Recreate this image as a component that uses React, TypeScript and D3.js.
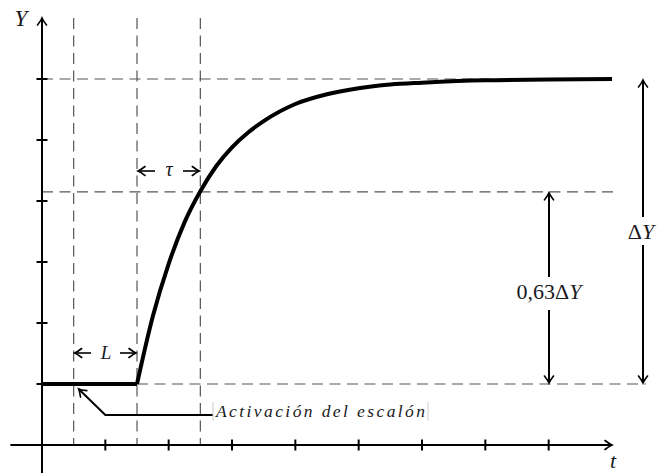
import React from "react";
import * as d3 from "d3";

// ---- data ----
const xTicks = [1, 2, 3, 4, 5, 6, 7, 8];
const yTicks = [1, 2, 3, 4, 5, 6];
const guideTimes = [0.5, 1.5, 2.5]; // dead-time start, step, step + tau
const levelInitial = 1;
const levelFinal = 6;
const level63 = 4.15;
const flatT = [0, 1.5];
const flatY = [1, 1];
const riseT = [1.5, 1.75, 2, 2.25, 2.5, 2.75, 3, 3.25, 3.5, 4, 4.5, 5, 5.5, 6, 7, 8, 9];
const riseY = [1, 2.11, 2.97, 3.65, 4.16, 4.57, 4.88, 5.12, 5.31, 5.59, 5.75, 5.85, 5.91, 5.94, 5.98, 5.99, 6.0];

const W = 660;
const H = 474;

export default function App() {
  const x = d3.scaleLinear().domain([0, 9]).range([42, 612]);
  const y = d3.scaleLinear().domain([0, 7]).range([445, 18]);

  const flatLine = d3
    .line<number>()
    .x((_, i) => x(flatT[i]))
    .y((d) => y(d))
    .curve(d3.curveLinear);
  const riseLine = d3
    .line<number>()
    .x((_, i) => x(riseT[i]))
    .y((d) => y(d))
    .curve(d3.curveMonotoneX);

  const dash = "11,6.5";
  const dashColor = "#555";
  const dashW = 1.2;
  const font = "'Liberation Serif', 'DejaVu Serif', serif";
  const txt = "#1a1a22";

  const x0 = x(0);
  const yA = y(0);
  const tStep = guideTimes[1];
  const tTau = guideTimes[2];
  const tL = guideTimes[0];

  const arrowX63 = 549;
  const arrowXDY = 643;

  return (
    <svg
      width={W}
      height={H}
      style={{ position: "absolute", left: 0, top: 0, background: "#fff" }}
    >
      <defs>
        <marker
          id="ah"
          viewBox="-10 -6 12 12"
          refX={0}
          refY={0}
          markerWidth={12}
          markerHeight={12}
          markerUnits="userSpaceOnUse"
          orient="auto-start-reverse"
        >
          <path
            d="M -7 -4.5 Q -2.5 -1 0 0 Q -2.5 1 -7 4.5"
            fill="none"
            stroke="#000"
            strokeWidth={1.6}
            strokeLinecap="round"
          />
        </marker>
      </defs>

      {/* vertical dashed guides */}
      {guideTimes.map((t) => (
        <line
          key={"g" + t}
          x1={x(t)}
          x2={x(t)}
          y1={y(7)}
          y2={yA}
          stroke={dashColor}
          strokeWidth={dashW}
          strokeDasharray={dash}
        />
      ))}

      {/* horizontal dashed guides */}
      <line x1={x0} x2={x(9)} y1={y(levelFinal)} y2={y(levelFinal)} stroke={dashColor} strokeWidth={dashW} strokeDasharray={dash} />
      <line x1={x0} x2={613} y1={y(level63)} y2={y(level63)} stroke={dashColor} strokeWidth={dashW} strokeDasharray={dash} />
      <line x1={x(tStep)} x2={646} y1={y(levelInitial)} y2={y(levelInitial)} stroke={dashColor} strokeWidth={dashW} strokeDasharray={dash} />

      {/* axes */}
      <line x1={x(-0.5)} x2={x(9)} y1={yA} y2={yA} stroke="#000" strokeWidth={2} markerEnd="url(#ah)" />
      <line x1={x0} x2={x0} y1={473} y2={y(7)} stroke="#000" strokeWidth={2} markerEnd="url(#ah)" />
      {xTicks.map((t) => (
        <line key={"xt" + t} x1={x(t)} x2={x(t)} y1={yA - 5.5} y2={yA + 5.5} stroke="#000" strokeWidth={2} />
      ))}
      {yTicks.map((v) => (
        <line key={"yt" + v} x1={x0 - 5.5} x2={x0 + 5.5} y1={y(v)} y2={y(v)} stroke="#000" strokeWidth={2} />
      ))}

      {/* response curve */}
      <path d={flatLine(flatY) || ""} fill="none" stroke="#000" strokeWidth={4} />
      <path d={riseLine(riseY) || ""} fill="none" stroke="#000" strokeWidth={4} strokeLinejoin="round" />

      {/* L arrows */}
      <line x1={91} x2={x(tL) + 1} y1={353} y2={353} stroke="#000" strokeWidth={1.6} markerEnd="url(#ah)" />
      <line x1={120} x2={x(tStep) - 1} y1={353} y2={353} stroke="#000" strokeWidth={1.6} markerEnd="url(#ah)" />
      <text x={106} y={359} fontFamily={font} fontStyle="italic" fontSize={19} fill={txt} textAnchor="middle">
        L
      </text>

      {/* tau arrows */}
      <line x1={155} x2={x(tStep) + 1} y1={171} y2={171} stroke="#000" strokeWidth={1.6} markerEnd="url(#ah)" />
      <line x1={183} x2={x(tTau) - 1} y1={171} y2={171} stroke="#000" strokeWidth={1.6} markerEnd="url(#ah)" />
      <text x={169} y={176} fontFamily={font} fontStyle="italic" fontSize={20} fill={txt} textAnchor="middle">
        τ
      </text>

      {/* 0.63 ΔY arrow */}
      <line x1={arrowX63} x2={arrowX63} y1={277} y2={y(level63) + 1} stroke="#000" strokeWidth={2} markerEnd="url(#ah)" />
      <line x1={arrowX63} x2={arrowX63} y1={310} y2={y(levelInitial) - 1} stroke="#000" strokeWidth={2} markerEnd="url(#ah)" />
      <text x={arrowX63} y={299} fontFamily={font} fontSize={22} fill={txt} textAnchor="middle">
        0,63Δ<tspan fontStyle="italic">Y</tspan>
      </text>

      {/* ΔY arrow */}
      <line x1={arrowXDY} x2={arrowXDY} y1={217} y2={y(levelFinal) + 1} stroke="#000" strokeWidth={2} markerEnd="url(#ah)" />
      <line x1={arrowXDY} x2={arrowXDY} y1={245} y2={y(levelInitial) - 1} stroke="#000" strokeWidth={2} markerEnd="url(#ah)" />
      <text x={arrowXDY - 2} y={239} fontFamily={font} fontSize={22} fill={txt} textAnchor="middle">
        Δ<tspan fontStyle="italic">Y</tspan>
      </text>

      {/* annotation */}
      <polyline
        points={`213,415 ${x(1)},415 ${x(tL) + 5},${y(levelInitial) + 5}`}
        fill="none"
        stroke="#000"
        strokeWidth={2}
        markerEnd="url(#ah)"
      />
      <line x1={213} x2={213} y1={402} y2={421} stroke="#ccc" strokeWidth={1} />
      <line x1={428} x2={428} y1={402} y2={421} stroke="#ccc" strokeWidth={1} />
      <text
        x={216}
        y={417}
        fontFamily={font}
        fontStyle="italic"
        fontSize={17.5}
        fill={txt}
        textLength={209}
        lengthAdjust="spacing"
      >
        Activación del escalón
      </text>

      {/* axis labels */}
      <text x={21} y={26} fontFamily={font} fontStyle="italic" fontSize={23} fill={txt} textAnchor="middle">
        Y
      </text>
      <text x={613} y={468} fontFamily={font} fontStyle="italic" fontSize={22} fill={txt} textAnchor="middle">
        t
      </text>
    </svg>
  );
}
